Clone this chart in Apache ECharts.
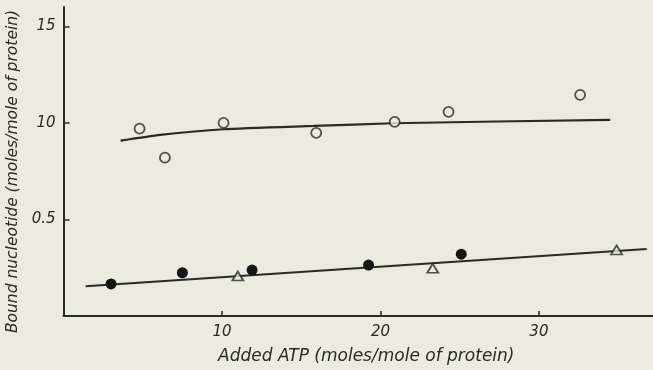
<!DOCTYPE html>
<html>
<head>
<meta charset="utf-8">
<script src="https://cdn.jsdelivr.net/npm/echarts@6/dist/echarts.min.js"></script>
<style>
  html, body { margin: 0; padding: 0; background: #ecebe2; }
  #chart { width: 653px; height: 370px; }
</style>
</head>
<body>
<div id="chart"></div>
<script>
// Added ATP (moles/mole of protein) vs bound nucleotide
const openCircles = [
  [4.8, 0.97], [6.4, 0.82], [10.1, 1.0], [15.95, 0.948],
  [20.9, 1.005], [24.3, 1.057], [32.6, 1.145]
];
const filledCircles = [
  [3.0, 0.166], [7.5, 0.224], [11.9, 0.238], [19.25, 0.264], [25.1, 0.32]
];
const openTriangles = [
  [11.0, 0.207], [23.3, 0.247], [34.9, 0.342]
];
// fitted curves
const upperCurve = [
  [3.6, 0.908], [6.1, 0.938], [10.1, 0.967], [15.8, 0.984], [20.8, 0.998], [34.5, 1.016]
];
const lowerLine = [[1.4, 0.154], [36.8, 0.347]];

const xTickValues = [10, 20, 30];
const xTickLabels = ['10', '20', '30'];
const yTickValues = [0.5, 1.0, 1.5];
const yTickLabels = ['0.5', '10', '15'];

const ink = '#2a2a27';
const font = 'DejaVu Sans';

const chart = echarts.init(document.getElementById('chart'));
chart.setOption({
  backgroundColor: '#ecebe2',
  animation: false,
  grid: { left: 63.5, right: 0, top: 7, bottom: 54, containLabel: false, outerBoundsMode: 'none' },
  xAxis: {
    type: 'value', min: 0, max: 37.2,
    name: 'Added ATP (moles/mole of protein)',
    nameLocation: 'middle', nameGap: 32.5,
    nameTextStyle: { fontFamily: font, fontStyle: 'italic', fontSize: 17, color: ink, padding: [0, 0, 0, 16] },
    axisLine: { show: true, onZero: false, lineStyle: { color: ink, width: 2 } },
    axisTick: { show: true, inside: true, length: 5, customValues: xTickValues, lineStyle: { color: ink, width: 1.5 } },
    axisLabel: {
      customValues: xTickValues,
      formatter: v => xTickLabels[xTickValues.indexOf(v)] || '',
      fontFamily: font, fontStyle: 'italic', fontSize: 15, color: ink, margin: 9
    },
    splitLine: { show: false }
  },
  yAxis: {
    type: 'value', min: 0, max: 1.6,
    name: 'Bound nucleotide (moles/mole of protein)',
    nameLocation: 'middle', nameGap: 39, nameRotate: 90,
    nameTextStyle: { fontFamily: font, fontStyle: 'italic', fontSize: 15.5, color: ink, padding: [0, 20, 0, 0] },
    axisLine: { show: true, onZero: false, lineStyle: { color: ink, width: 2 } },
    axisTick: { show: true, inside: true, length: 6, customValues: yTickValues, lineStyle: { color: ink, width: 1.5 } },
    axisLabel: {
      customValues: yTickValues,
      formatter: v => yTickLabels[yTickValues.findIndex(t => Math.abs(t - v) < 1e-6)] || '',
      fontFamily: font, fontStyle: 'italic', fontSize: 15, color: ink, margin: 8
    },
    splitLine: { show: false }
  },
  series: [
    {
      type: 'line', data: upperCurve, smooth: 0.2, showSymbol: false,
      lineStyle: { color: ink, width: 2.2 }, z: 2
    },
    {
      type: 'line', data: lowerLine, showSymbol: false,
      lineStyle: { color: ink, width: 2.2 }, z: 2
    },
    {
      type: 'scatter', data: openCircles, symbol: 'circle', symbolSize: 10,
      itemStyle: { color: '#ecebe2', borderColor: ink, borderWidth: 1.8 }, z: 3
    },
    {
      type: 'scatter', data: filledCircles, symbol: 'circle', symbolSize: 11,
      itemStyle: { color: '#161614', opacity: 1 }, z: 3
    },
    {
      type: 'scatter', data: openTriangles, symbol: 'triangle', symbolSize: [11, 9],
      itemStyle: { color: '#ecebe2', borderColor: ink, borderWidth: 1.8 }, z: 3
    }
  ]
});
</script>
</body>
</html>
